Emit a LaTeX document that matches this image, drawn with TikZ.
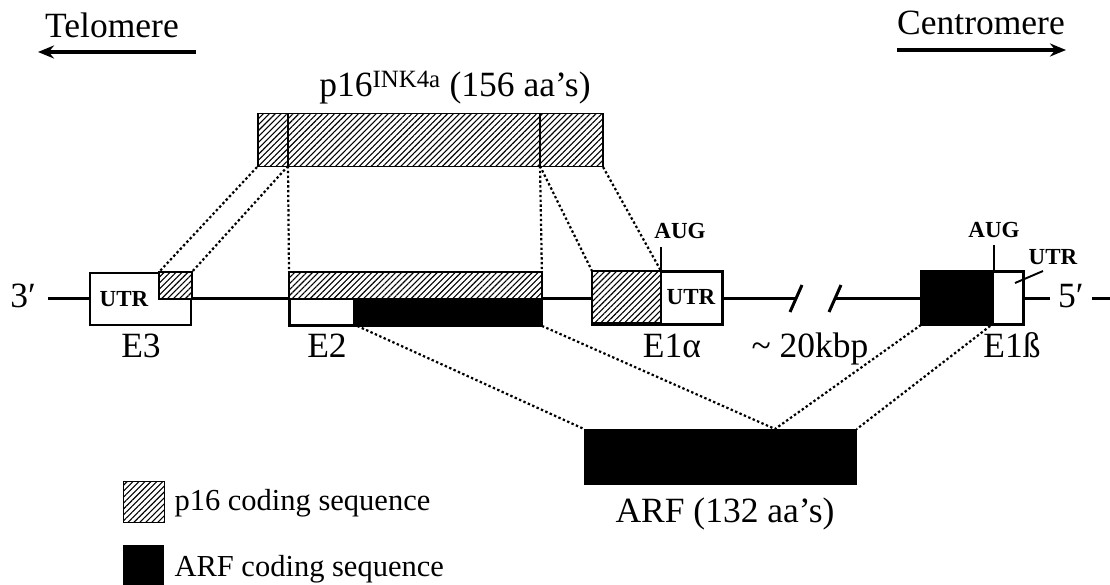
\documentclass[tikz,border=0pt]{standalone}
\usepackage{fontspec}
\setmainfont{Liberation Serif}
\usetikzlibrary{arrows.meta,patterns.meta}
\tikzset{
  hatched/.style={preaction={fill=white},pattern={Lines[angle=45,distance=4.2pt,line width=1.1pt]}},
  exon/.style={draw,line width=1.9pt,inner sep=0pt,minimum height=52pt,anchor=north west,fill=white},
  guide/.style={line width=2.2pt,dash pattern=on 2.4pt off 2.4pt},
  gene/.style={line width=3pt},
  edge/.style={line width=1.9pt},
  utr/.style={font=\fontsize{23}{25}\selectfont\bfseries,inner sep=0pt},
  keytext/.style={anchor=base west,font=\fontsize{30.5}{34}\selectfont},
  strand/.style={line width=3.5pt,-{Stealth[length=16pt,width=13pt]}},
}
\begin{document}
\begin{tikzpicture}[x=1pt,y=-1pt,font=\fontsize{35.5}{40}\selectfont]
\useasboundingbox (0,0) rectangle (1110,585);
\node[anchor=base west,inner sep=0pt] (telo) at (45,38) {Telomere};
\node[anchor=base west,inner sep=0pt] (centro) at (897,35) {Centromere};
\coordinate (telo-r) at (196,52);
\coordinate (telo-l) at (38,52);
\coordinate (centro-l) at (897,50);
\coordinate (centro-r) at (1066,50);
\draw[strand] (telo-r) -- (telo-l);
\draw[strand] (centro-l) -- (centro-r);

% p16 protein
\node[exon,hatched,minimum width=345pt,minimum height=53pt] (p16) at (257,113) {};
\coordinate (p16-at) at (288,113);
\coordinate (p16-ab) at (288,166);
\coordinate (p16-bt) at (540,113);
\coordinate (p16-bb) at (540,166);
\draw[edge] (p16-at) -- (p16-ab);
\draw[edge] (p16-bt) -- (p16-bb);
\node[anchor=base] (p16lbl) at (455,97) {p16\textsuperscript{INK4a} (156 aa’s)};

% gene
\coordinate (g3) at (48,298);
\coordinate (brk-l) at (796,298);
\coordinate (brk-r) at (835,298);
\coordinate (g5) at (1050,298);
\draw[gene] (g3) -- (brk-l);
\draw[gene] (brk-r) -- (g5);
\draw[gene] ([shift={(-6,14)}]brk-l) -- ([shift={(6,-13)}]brk-l);
\draw[gene] ([shift={(-6,14)}]brk-r) -- ([shift={(6,-13)}]brk-r);
\node[anchor=base east,inner sep=0pt] (three) at (36,307) {3′};
\node[anchor=base west,inner sep=0pt] (five) at (1058,307) {5′};
\coordinate (g5-end) at (1110,298);
\draw[gene] (1092,298) -- (g5-end);

\node[exon,minimum width=101pt] (e3) at (89,272) {};
\coordinate (e3-h) at (159,272);
\draw[hatched,edge] (e3-h) rectangle (e3.east);
\node[utr] at (124,299) {UTR};
\node[anchor=base] (e3lbl) at (141,357) {E3};

\node[exon,minimum width=251pt] (e2) at (289,272) {};
\coordinate (e2-k) at (353,298);
\coordinate (e2-kb) at (353,324);
\draw[hatched,edge] (e2.north west) rectangle (e2.east);
\fill (e2-k) rectangle (e2.south east);
\draw[edge] (e2.north west) rectangle (e2.south east);
\node[anchor=base] (e2lbl) at (327,357) {E2};

\node[exon,minimum width=129pt] (e1a) at (592,271) {};
\coordinate (aug-a) at (661,271);
\coordinate (aug-ab) at (661,323);
\draw[hatched,edge] (e1a.north west) rectangle (aug-ab);
\draw[edge] (e1a.north west) rectangle (e1a.south east);
\draw[edge] (aug-a) -- ++(0,-24);
\node[utr] at (680,231) {AUG};
\node[utr] at (691,297) {UTR};
\node[anchor=base] (e1albl) at (672,357) {E1α};
\node[anchor=base] (kbp) at (810,357) {\textasciitilde{} 20kbp};

\node[exon,minimum width=101pt] (e1b) at (921,271) {};
\coordinate (aug-b) at (994,271);
\coordinate (aug-bb) at (994,323);
\fill (e1b.north west) rectangle (aug-bb);
\draw[edge] (e1b.north west) rectangle (e1b.south east);
\draw[edge] (aug-b) -- ++(0,-26);
\node[utr] at (994,230) {AUG};
\node[utr] (utr-b) at (1053,257) {UTR};
\coordinate (utr-b-in) at (1015,283);
\coordinate (utr-b-out) at (1043,271);
\draw[edge] (utr-b-in) -- (utr-b-out);
\node[anchor=base] (e1blbl) at (1012,357) {E1ß};

% ARF protein
\node[draw,fill=black,line width=1.8pt,inner sep=0pt,minimum width=271pt,minimum height=54pt,anchor=north west] (arf) at (584,429) {};
\coordinate (arf-j) at (775,429);
\node[anchor=base] (arflbl) at (725,522) {ARF (132 aa’s)};

\draw[guide] (p16.south west) -- (e3-h);
\draw[guide] (p16-ab) -- (e3.north east);
\draw[guide] (p16-ab) -- (e2.north west);
\draw[guide] (p16-bb) -- (e2.north east);
\draw[guide] (p16-bb) -- (e1a.north west);
\draw[guide] (p16.south east) -- (aug-a);
\draw[guide] (e2-kb) -- (arf.north west);
\draw[guide] (e2.south east) -- (arf-j);
\draw[guide] (e1b.south west) -- (arf-j);
\draw[guide] (aug-bb) -- (arf.north east);

% key
\node[draw,hatched,line width=1.2pt,inner sep=0pt,minimum size=41pt,anchor=north west] (key16) at (123,481) {};
\node[keytext] (key16lbl) at (171,510) {p16 coding sequence};
\node[fill=black,inner sep=0pt,minimum width=41pt,minimum height=50pt,anchor=north west] (keyarf) at (123,545) {};
\node[keytext] (keyarflbl) at (171,576) {ARF coding sequence};
\end{tikzpicture}
\end{document}
